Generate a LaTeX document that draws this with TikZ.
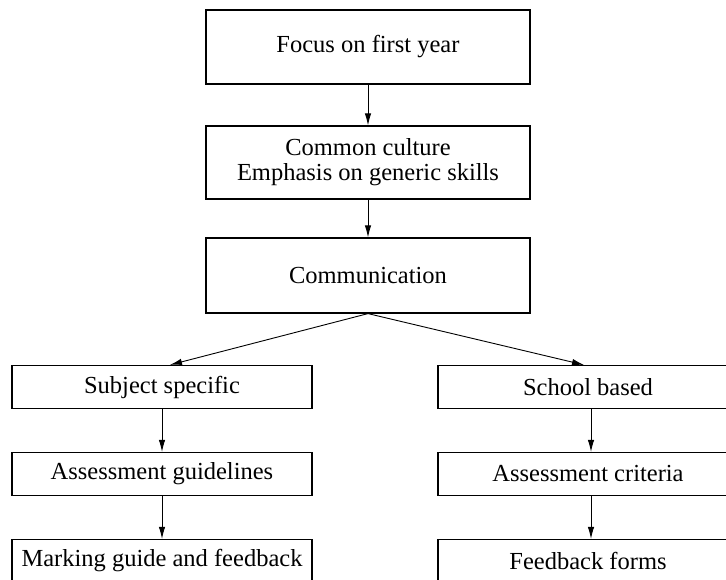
\documentclass[tikz,border=0pt]{standalone}
\usepackage{fontspec}
\setmainfont{Liberation Serif}
\usetikzlibrary{arrows.meta}

\tikzset{
  stagebox/.style={draw, line width=1.2pt, rectangle, align=center,
    inner sep=0pt, font=\fontsize{24.5}{25}\selectfont},
  topbox/.style={stagebox, minimum width=324pt},
  colbox/.style={stagebox, minimum width=300pt, minimum height=43pt},
  flow/.style={draw, line width=0.9pt, -{Latex[length=12pt,width=6.5pt]}}
}

\begin{document}
\begin{tikzpicture}[x=1pt, y=-1pt]
    \useasboundingbox (0,0) rectangle (726,580);
    \clip (0,0) rectangle (726,580);

    % centre column
    \node[topbox, minimum height=74pt] (focus) at (368,47) {Focus on first year};
    \node[topbox, minimum height=73pt] (culture) at (368,162.5) {Common culture\\Emphasis on generic skills};
    \node[topbox, minimum height=75pt] (comm) at (368,275.5) {Communication};

    % left column
    \node[colbox] (subject) at (162,387) {Subject specific};
    \node[colbox] (guidelines) at (162,474) {Assessment guidelines};
    \node[colbox] (marking) at (162,561) {Marking guide and feedback};

    % right column
    \node[colbox] (school) at (588,387) {School based};
    \node[colbox] (criteria) at (588,474) {Assessment criteria};
    \node[colbox] (forms) at (588,561) {Feedback forms};

    \draw[flow] (focus.south) -- (culture.north);
    \draw[flow] (culture.south) -- (comm.north);

    \draw[flow] (comm.south) -- ([xshift=8pt]subject.north);
    \draw[flow] (comm.south) -- ([xshift=-4pt]school.north);

    \draw[flow] (subject.south) -- (guidelines.north);
    \draw[flow] (guidelines.south) -- (marking.north);
    \draw[flow] ([xshift=3pt]school.south) -- ([xshift=3pt]criteria.north);
    \draw[flow] ([xshift=3pt]criteria.south) -- ([xshift=3pt]forms.north);
\end{tikzpicture}
\end{document}
